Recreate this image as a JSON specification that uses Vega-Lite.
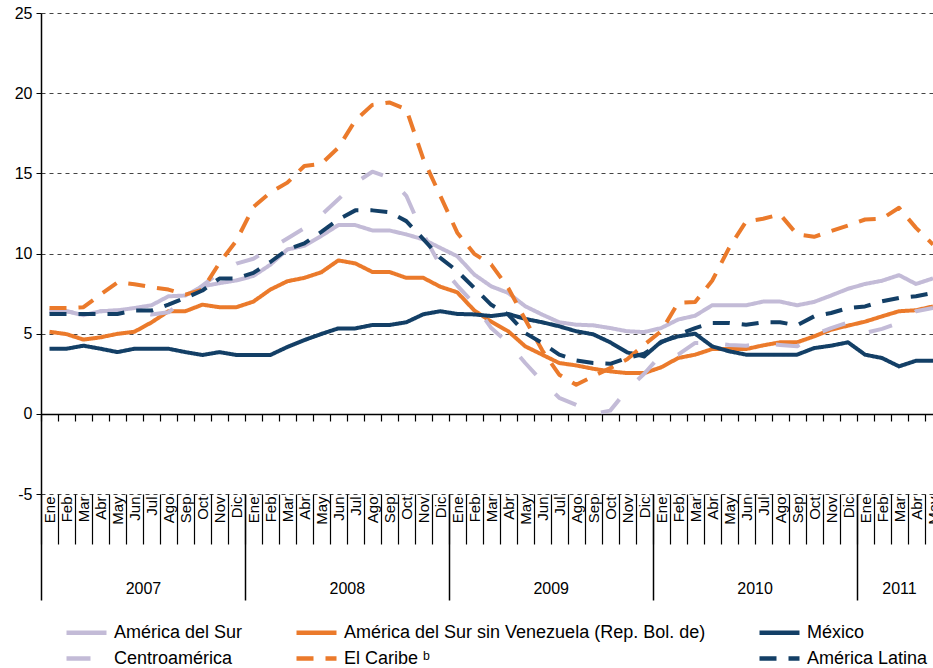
{
"$schema":"https://vega.github.io/schema/vega-lite/v6.json",
"width":892,"height":481,
"autosize":{"type":"none"},
"padding":{"left":41,"top":13,"right":0,"bottom":174},
"background":"white",
"config":{"font":"Liberation Sans","view":{"stroke":null},"axis":{"labelFont":"Liberation Sans","labelColor":"#000"}},
"datasets":{"d":[
{"mes":0,"serie":"América del Sur","valor":6.4},{"mes":1,"serie":"América del Sur","valor":6.4},{"mes":2,"serie":"América del Sur","valor":6.15},{"mes":3,"serie":"América del Sur","valor":6.4},{"mes":4,"serie":"América del Sur","valor":6.45},{"mes":5,"serie":"América del Sur","valor":6.6},{"mes":6,"serie":"América del Sur","valor":6.77},{"mes":7,"serie":"América del Sur","valor":7.33},{"mes":8,"serie":"América del Sur","valor":7.38},{"mes":9,"serie":"América del Sur","valor":7.95},{"mes":10,"serie":"América del Sur","valor":8.15},{"mes":11,"serie":"América del Sur","valor":8.32},
{"mes":12,"serie":"América del Sur","valor":8.6},{"mes":13,"serie":"América del Sur","valor":9.3},{"mes":14,"serie":"América del Sur","valor":10.25},{"mes":15,"serie":"América del Sur","valor":10.48},{"mes":16,"serie":"América del Sur","valor":11.1},{"mes":17,"serie":"América del Sur","valor":11.77},{"mes":18,"serie":"América del Sur","valor":11.77},{"mes":19,"serie":"América del Sur","valor":11.44},{"mes":20,"serie":"América del Sur","valor":11.44},{"mes":21,"serie":"América del Sur","valor":11.19},{"mes":22,"serie":"América del Sur","valor":10.88},{"mes":23,"serie":"América del Sur","valor":10.35},
{"mes":24,"serie":"América del Sur","valor":9.83},{"mes":25,"serie":"América del Sur","valor":8.69},{"mes":26,"serie":"América del Sur","valor":7.95},{"mes":27,"serie":"América del Sur","valor":7.54},{"mes":28,"serie":"América del Sur","valor":6.71},{"mes":29,"serie":"América del Sur","valor":6.19},{"mes":30,"serie":"América del Sur","valor":5.71},{"mes":31,"serie":"América del Sur","valor":5.56},{"mes":32,"serie":"América del Sur","valor":5.52},{"mes":33,"serie":"América del Sur","valor":5.35},{"mes":34,"serie":"América del Sur","valor":5.15},{"mes":35,"serie":"América del Sur","valor":5.1},
{"mes":36,"serie":"América del Sur","valor":5.35},{"mes":37,"serie":"América del Sur","valor":5.88},{"mes":38,"serie":"América del Sur","valor":6.12},{"mes":39,"serie":"América del Sur","valor":6.77},{"mes":40,"serie":"América del Sur","valor":6.77},{"mes":41,"serie":"América del Sur","valor":6.77},{"mes":42,"serie":"América del Sur","valor":7.0},{"mes":43,"serie":"América del Sur","valor":7.0},{"mes":44,"serie":"América del Sur","valor":6.77},{"mes":45,"serie":"América del Sur","valor":6.98},{"mes":46,"serie":"América del Sur","valor":7.38},{"mes":47,"serie":"América del Sur","valor":7.8},
{"mes":48,"serie":"América del Sur","valor":8.1},{"mes":49,"serie":"América del Sur","valor":8.3},{"mes":50,"serie":"América del Sur","valor":8.65},{"mes":51,"serie":"América del Sur","valor":8.1},{"mes":52,"serie":"América del Sur","valor":8.45},

{"mes":0,"serie":"América del Sur sin Venezuela (Rep. Bol. de)","valor":5.12},{"mes":1,"serie":"América del Sur sin Venezuela (Rep. Bol. de)","valor":4.97},{"mes":2,"serie":"América del Sur sin Venezuela (Rep. Bol. de)","valor":4.63},{"mes":3,"serie":"América del Sur sin Venezuela (Rep. Bol. de)","valor":4.77},{"mes":4,"serie":"América del Sur sin Venezuela (Rep. Bol. de)","valor":4.99},{"mes":5,"serie":"América del Sur sin Venezuela (Rep. Bol. de)","valor":5.12},{"mes":6,"serie":"América del Sur sin Venezuela (Rep. Bol. de)","valor":5.7},{"mes":7,"serie":"América del Sur sin Venezuela (Rep. Bol. de)","valor":6.4},{"mes":8,"serie":"América del Sur sin Venezuela (Rep. Bol. de)","valor":6.4},{"mes":9,"serie":"América del Sur sin Venezuela (Rep. Bol. de)","valor":6.81},{"mes":10,"serie":"América del Sur sin Venezuela (Rep. Bol. de)","valor":6.65},{"mes":11,"serie":"América del Sur sin Venezuela (Rep. Bol. de)","valor":6.65},
{"mes":12,"serie":"América del Sur sin Venezuela (Rep. Bol. de)","valor":7.0},{"mes":13,"serie":"América del Sur sin Venezuela (Rep. Bol. de)","valor":7.75},{"mes":14,"serie":"América del Sur sin Venezuela (Rep. Bol. de)","valor":8.27},{"mes":15,"serie":"América del Sur sin Venezuela (Rep. Bol. de)","valor":8.48},{"mes":16,"serie":"América del Sur sin Venezuela (Rep. Bol. de)","valor":8.83},{"mes":17,"serie":"América del Sur sin Venezuela (Rep. Bol. de)","valor":9.57},{"mes":18,"serie":"América del Sur sin Venezuela (Rep. Bol. de)","valor":9.38},{"mes":19,"serie":"América del Sur sin Venezuela (Rep. Bol. de)","valor":8.85},{"mes":20,"serie":"América del Sur sin Venezuela (Rep. Bol. de)","valor":8.85},{"mes":21,"serie":"América del Sur sin Venezuela (Rep. Bol. de)","valor":8.48},{"mes":22,"serie":"América del Sur sin Venezuela (Rep. Bol. de)","valor":8.48},{"mes":23,"serie":"América del Sur sin Venezuela (Rep. Bol. de)","valor":7.93},
{"mes":24,"serie":"América del Sur sin Venezuela (Rep. Bol. de)","valor":7.58},{"mes":25,"serie":"América del Sur sin Venezuela (Rep. Bol. de)","valor":6.45},{"mes":26,"serie":"América del Sur sin Venezuela (Rep. Bol. de)","valor":5.75},{"mes":27,"serie":"América del Sur sin Venezuela (Rep. Bol. de)","valor":5.15},{"mes":28,"serie":"América del Sur sin Venezuela (Rep. Bol. de)","valor":4.21},{"mes":29,"serie":"América del Sur sin Venezuela (Rep. Bol. de)","valor":3.69},{"mes":30,"serie":"América del Sur sin Venezuela (Rep. Bol. de)","valor":3.17},{"mes":31,"serie":"América del Sur sin Venezuela (Rep. Bol. de)","valor":3.02},{"mes":32,"serie":"América del Sur sin Venezuela (Rep. Bol. de)","valor":2.81},{"mes":33,"serie":"América del Sur sin Venezuela (Rep. Bol. de)","valor":2.65},{"mes":34,"serie":"América del Sur sin Venezuela (Rep. Bol. de)","valor":2.54},{"mes":35,"serie":"América del Sur sin Venezuela (Rep. Bol. de)","valor":2.54},
{"mes":36,"serie":"América del Sur sin Venezuela (Rep. Bol. de)","valor":2.9},{"mes":37,"serie":"América del Sur sin Venezuela (Rep. Bol. de)","valor":3.48},{"mes":38,"serie":"América del Sur sin Venezuela (Rep. Bol. de)","valor":3.69},{"mes":39,"serie":"América del Sur sin Venezuela (Rep. Bol. de)","valor":4.04},{"mes":40,"serie":"América del Sur sin Venezuela (Rep. Bol. de)","valor":4.04},{"mes":41,"serie":"América del Sur sin Venezuela (Rep. Bol. de)","valor":4.04},{"mes":42,"serie":"América del Sur sin Venezuela (Rep. Bol. de)","valor":4.27},{"mes":43,"serie":"América del Sur sin Venezuela (Rep. Bol. de)","valor":4.46},{"mes":44,"serie":"América del Sur sin Venezuela (Rep. Bol. de)","valor":4.46},{"mes":45,"serie":"América del Sur sin Venezuela (Rep. Bol. de)","valor":4.83},{"mes":46,"serie":"América del Sur sin Venezuela (Rep. Bol. de)","valor":5.25},{"mes":47,"serie":"América del Sur sin Venezuela (Rep. Bol. de)","valor":5.5},
{"mes":48,"serie":"América del Sur sin Venezuela (Rep. Bol. de)","valor":5.75},{"mes":49,"serie":"América del Sur sin Venezuela (Rep. Bol. de)","valor":6.08},{"mes":50,"serie":"América del Sur sin Venezuela (Rep. Bol. de)","valor":6.4},{"mes":51,"serie":"América del Sur sin Venezuela (Rep. Bol. de)","valor":6.46},{"mes":52,"serie":"América del Sur sin Venezuela (Rep. Bol. de)","valor":6.7},

{"mes":0,"serie":"México","valor":4.06},{"mes":1,"serie":"México","valor":4.06},{"mes":2,"serie":"México","valor":4.25},{"mes":3,"serie":"México","valor":4.06},{"mes":4,"serie":"México","valor":3.85},{"mes":5,"serie":"México","valor":4.06},{"mes":6,"serie":"México","valor":4.06},{"mes":7,"serie":"México","valor":4.06},{"mes":8,"serie":"México","valor":3.85},{"mes":9,"serie":"México","valor":3.67},{"mes":10,"serie":"México","valor":3.85},{"mes":11,"serie":"México","valor":3.67},
{"mes":12,"serie":"México","valor":3.67},{"mes":13,"serie":"México","valor":3.67},{"mes":14,"serie":"México","valor":4.17},{"mes":15,"serie":"México","valor":4.6},{"mes":16,"serie":"México","valor":4.98},{"mes":17,"serie":"México","valor":5.33},{"mes":18,"serie":"México","valor":5.33},{"mes":19,"serie":"México","valor":5.54},{"mes":20,"serie":"México","valor":5.54},{"mes":21,"serie":"México","valor":5.71},{"mes":22,"serie":"México","valor":6.21},{"mes":23,"serie":"México","valor":6.4},
{"mes":24,"serie":"México","valor":6.23},{"mes":25,"serie":"México","valor":6.2},{"mes":26,"serie":"México","valor":6.1},{"mes":27,"serie":"México","valor":6.23},{"mes":28,"serie":"México","valor":5.92},{"mes":29,"serie":"México","valor":5.71},{"mes":30,"serie":"México","valor":5.46},{"mes":31,"serie":"México","valor":5.15},{"mes":32,"serie":"México","valor":4.96},{"mes":33,"serie":"México","valor":4.46},{"mes":34,"serie":"México","valor":3.83},{"mes":35,"serie":"México","valor":3.58},
{"mes":36,"serie":"México","valor":4.5},{"mes":37,"serie":"México","valor":4.83},{"mes":38,"serie":"México","valor":5.0},{"mes":39,"serie":"México","valor":4.21},{"mes":40,"serie":"México","valor":3.9},{"mes":41,"serie":"México","valor":3.69},{"mes":42,"serie":"México","valor":3.69},{"mes":43,"serie":"México","valor":3.69},{"mes":44,"serie":"México","valor":3.69},{"mes":45,"serie":"México","valor":4.1},{"mes":46,"serie":"México","valor":4.25},{"mes":47,"serie":"México","valor":4.46},
{"mes":48,"serie":"México","valor":3.69},{"mes":49,"serie":"México","valor":3.48},{"mes":50,"serie":"México","valor":2.96},{"mes":51,"serie":"México","valor":3.31},{"mes":52,"serie":"México","valor":3.31},

{"mes":0,"serie":"Centroamérica","valor":6.45},{"mes":1,"serie":"Centroamérica","valor":6.4},{"mes":2,"serie":"Centroamérica","valor":6.2},{"mes":3,"serie":"Centroamérica","valor":6.4},{"mes":4,"serie":"Centroamérica","valor":6.45},{"mes":5,"serie":"Centroamérica","valor":6.45},{"mes":6,"serie":"Centroamérica","valor":6.19},{"mes":7,"serie":"Centroamérica","valor":6.33},{"mes":8,"serie":"Centroamérica","valor":7.2},{"mes":9,"serie":"Centroamérica","valor":8.0},{"mes":10,"serie":"Centroamérica","valor":8.8},{"mes":11,"serie":"Centroamérica","valor":9.37},
{"mes":12,"serie":"Centroamérica","valor":9.67},{"mes":13,"serie":"Centroamérica","valor":10.3},{"mes":14,"serie":"Centroamérica","valor":10.93},{"mes":15,"serie":"Centroamérica","valor":11.58},{"mes":16,"serie":"Centroamérica","valor":12.4},{"mes":17,"serie":"Centroamérica","valor":13.38},{"mes":18,"serie":"Centroamérica","valor":14.4},{"mes":19,"serie":"Centroamérica","valor":15.1},{"mes":20,"serie":"Centroamérica","valor":14.73},{"mes":21,"serie":"Centroamérica","valor":13.6},{"mes":22,"serie":"Centroamérica","valor":11.2},{"mes":23,"serie":"Centroamérica","valor":9.25},
{"mes":24,"serie":"Centroamérica","valor":8.0},{"mes":25,"serie":"Centroamérica","valor":6.85},{"mes":26,"serie":"Centroamérica","valor":5.35},{"mes":27,"serie":"Centroamérica","valor":4.42},{"mes":28,"serie":"Centroamérica","valor":3.17},{"mes":29,"serie":"Centroamérica","valor":2.02},{"mes":30,"serie":"Centroamérica","valor":1.0},{"mes":31,"serie":"Centroamérica","valor":0.56},{"mes":32,"serie":"Centroamérica","valor":0.0},{"mes":33,"serie":"Centroamérica","valor":0.2},{"mes":34,"serie":"Centroamérica","valor":1.5},{"mes":35,"serie":"Centroamérica","valor":2.5},
{"mes":36,"serie":"Centroamérica","valor":3.69},{"mes":37,"serie":"Centroamérica","valor":3.69},{"mes":38,"serie":"Centroamérica","valor":4.42},{"mes":39,"serie":"Centroamérica","valor":4.42},{"mes":40,"serie":"Centroamérica","valor":4.3},{"mes":41,"serie":"Centroamérica","valor":4.25},{"mes":42,"serie":"Centroamérica","valor":4.38},{"mes":43,"serie":"Centroamérica","valor":4.3},{"mes":44,"serie":"Centroamérica","valor":4.21},{"mes":45,"serie":"Centroamérica","valor":4.94},{"mes":46,"serie":"Centroamérica","valor":5.35},{"mes":47,"serie":"Centroamérica","valor":5.7},
{"mes":48,"serie":"Centroamérica","valor":5.04},{"mes":49,"serie":"Centroamérica","valor":5.3},{"mes":50,"serie":"Centroamérica","valor":5.67},{"mes":51,"serie":"Centroamérica","valor":6.4},{"mes":52,"serie":"Centroamérica","valor":6.6},

{"mes":0,"serie":"El Caribe ᵇ","valor":6.6},{"mes":1,"serie":"El Caribe ᵇ","valor":6.6},{"mes":2,"serie":"El Caribe ᵇ","valor":6.65},{"mes":3,"serie":"El Caribe ᵇ","valor":7.44},{"mes":4,"serie":"El Caribe ᵇ","valor":8.2},{"mes":5,"serie":"El Caribe ᵇ","valor":8.08},{"mes":6,"serie":"El Caribe ᵇ","valor":7.9},{"mes":7,"serie":"El Caribe ᵇ","valor":7.75},{"mes":8,"serie":"El Caribe ᵇ","valor":7.44},{"mes":9,"serie":"El Caribe ᵇ","valor":7.75},{"mes":10,"serie":"El Caribe ᵇ","valor":9.4},{"mes":11,"serie":"El Caribe ᵇ","valor":10.8},
{"mes":12,"serie":"El Caribe ᵇ","valor":12.9},{"mes":13,"serie":"El Caribe ᵇ","valor":13.8},{"mes":14,"serie":"El Caribe ᵇ","valor":14.42},{"mes":15,"serie":"El Caribe ᵇ","valor":15.46},{"mes":16,"serie":"El Caribe ᵇ","valor":15.6},{"mes":17,"serie":"El Caribe ᵇ","valor":16.6},{"mes":18,"serie":"El Caribe ᵇ","valor":18.3},{"mes":19,"serie":"El Caribe ᵇ","valor":19.27},{"mes":20,"serie":"El Caribe ᵇ","valor":19.42},{"mes":21,"serie":"El Caribe ᵇ","valor":19.0},{"mes":22,"serie":"El Caribe ᵇ","valor":15.9},{"mes":23,"serie":"El Caribe ᵇ","valor":13.6},
{"mes":24,"serie":"El Caribe ᵇ","valor":11.3},{"mes":25,"serie":"El Caribe ᵇ","valor":9.98},{"mes":26,"serie":"El Caribe ᵇ","valor":9.31},{"mes":27,"serie":"El Caribe ᵇ","valor":7.85},{"mes":28,"serie":"El Caribe ᵇ","valor":5.88},{"mes":29,"serie":"El Caribe ᵇ","valor":3.96},{"mes":30,"serie":"El Caribe ᵇ","valor":2.44},{"mes":31,"serie":"El Caribe ᵇ","valor":1.81},{"mes":32,"serie":"El Caribe ᵇ","valor":2.35},{"mes":33,"serie":"El Caribe ᵇ","valor":2.85},{"mes":34,"serie":"El Caribe ᵇ","valor":3.4},{"mes":35,"serie":"El Caribe ᵇ","valor":4.3},
{"mes":36,"serie":"El Caribe ᵇ","valor":5.15},{"mes":37,"serie":"El Caribe ᵇ","valor":6.92},{"mes":38,"serie":"El Caribe ᵇ","valor":6.98},{"mes":39,"serie":"El Caribe ᵇ","valor":8.3},{"mes":40,"serie":"El Caribe ᵇ","valor":10.35},{"mes":41,"serie":"El Caribe ᵇ","valor":12.0},{"mes":42,"serie":"El Caribe ᵇ","valor":12.17},{"mes":43,"serie":"El Caribe ᵇ","valor":12.44},{"mes":44,"serie":"El Caribe ᵇ","valor":11.19},{"mes":45,"serie":"El Caribe ᵇ","valor":11.04},{"mes":46,"serie":"El Caribe ᵇ","valor":11.4},{"mes":47,"serie":"El Caribe ᵇ","valor":11.75},
{"mes":48,"serie":"El Caribe ᵇ","valor":12.12},{"mes":49,"serie":"El Caribe ᵇ","valor":12.17},{"mes":50,"serie":"El Caribe ᵇ","valor":12.85},{"mes":51,"serie":"El Caribe ᵇ","valor":11.6},{"mes":52,"serie":"El Caribe ᵇ","valor":10.56},

{"mes":0,"serie":"América Latina","valor":6.23},{"mes":1,"serie":"América Latina","valor":6.23},{"mes":2,"serie":"América Latina","valor":6.23},{"mes":3,"serie":"América Latina","valor":6.23},{"mes":4,"serie":"América Latina","valor":6.23},{"mes":5,"serie":"América Latina","valor":6.44},{"mes":6,"serie":"América Latina","valor":6.44},{"mes":7,"serie":"América Latina","valor":6.81},{"mes":8,"serie":"América Latina","valor":7.23},{"mes":9,"serie":"América Latina","valor":7.69},{"mes":10,"serie":"América Latina","valor":8.44},{"mes":11,"serie":"América Latina","valor":8.44},
{"mes":12,"serie":"América Latina","valor":8.79},{"mes":13,"serie":"América Latina","valor":9.47},{"mes":14,"serie":"América Latina","valor":10.25},{"mes":15,"serie":"América Latina","valor":10.63},{"mes":16,"serie":"América Latina","valor":11.35},{"mes":17,"serie":"América Latina","valor":12.12},{"mes":18,"serie":"América Latina","valor":12.69},{"mes":19,"serie":"América Latina","valor":12.69},{"mes":20,"serie":"América Latina","valor":12.58},{"mes":21,"serie":"América Latina","valor":12.02},{"mes":22,"serie":"América Latina","valor":10.9},{"mes":23,"serie":"América Latina","valor":9.73},
{"mes":24,"serie":"América Latina","valor":8.9},{"mes":25,"serie":"América Latina","valor":7.85},{"mes":26,"serie":"América Latina","valor":6.8},{"mes":27,"serie":"América Latina","valor":6.19},{"mes":28,"serie":"América Latina","valor":5.04},{"mes":29,"serie":"América Latina","valor":4.42},{"mes":30,"serie":"América Latina","valor":3.69},{"mes":31,"serie":"América Latina","valor":3.33},{"mes":32,"serie":"América Latina","valor":3.17},{"mes":33,"serie":"América Latina","valor":3.12},{"mes":34,"serie":"América Latina","valor":3.48},{"mes":35,"serie":"América Latina","valor":3.75},
{"mes":36,"serie":"América Latina","valor":4.45},{"mes":37,"serie":"América Latina","valor":4.94},{"mes":38,"serie":"América Latina","valor":5.35},{"mes":39,"serie":"América Latina","valor":5.67},{"mes":40,"serie":"América Latina","valor":5.67},{"mes":41,"serie":"América Latina","valor":5.56},{"mes":42,"serie":"América Latina","valor":5.71},{"mes":43,"serie":"América Latina","valor":5.71},{"mes":44,"serie":"América Latina","valor":5.52},{"mes":45,"serie":"América Latina","valor":6.08},{"mes":46,"serie":"América Latina","valor":6.29},{"mes":47,"serie":"América Latina","valor":6.6},
{"mes":48,"serie":"América Latina","valor":6.7},{"mes":49,"serie":"América Latina","valor":7.02},{"mes":50,"serie":"América Latina","valor":7.23},{"mes":51,"serie":"América Latina","valor":7.33},{"mes":52,"serie":"América Latina","valor":7.54}
]},
"data":{"name":"d"},
"layer":[
{
"mark":{"type":"line","strokeWidth":4,"strokeJoin":"round","strokeCap":"butt"},
"encoding":{
"x":{"field":"mes","type":"quantitative","scale":{"domain":[-0.5,52],"nice":false,"zero":false},
"axis":{"orient":"bottom","title":null,"values":[0,1,2,3,4,5,6,7,8,9,10,11,12,13,14,15,16,17,18,19,20,21,22,23,24,25,26,27,28,29,30,31,32,33,34,35,36,37,38,39,40,41,42,43,44,45,46,47,48,49,50,51,52],
"labelExpr":"['Ene','Feb','Mar','Abr','May','Jun','Jul','Ago','Sep','Oct','Nov','Dic'][datum.value % 12]",
"labelAngle":-90,"labelFontSize":15,"labelPadding":2,"ticks":false,"domain":false,"grid":false,"labelOverlap":false,"labelFlush":false,"labelBound":false}},
"y":{"field":"valor","type":"quantitative","scale":{"domain":[-5,25],"nice":false,"zero":false},
"axis":{"title":null,"values":[-5,0,5,10,15,20,25],"labelExpr":"'' + datum.value","grid":true,"gridDash":[4,4],"gridColor":"#444","gridWidth":1,"domainColor":"#000","domainWidth":1.5,"tickColor":"#000","tickSize":5,"labelFontSize":16,"labelPadding":4}},
"color":{"field":"serie","type":"nominal",
"scale":{"domain":["América del Sur","América del Sur sin Venezuela (Rep. Bol. de)","México","Centroamérica","El Caribe ᵇ","América Latina"],"range":["#C3BBD7","#EB7A2B","#133F66","#C3BBD7","#EB7A2B","#133F66"]},
"legend":{"orient":"none","direction":"horizontal","legendX":33,"legendY":607,"columns":3,"columnPadding":44,"rowPadding":4,"title":null,"padding":0,
"labelFontSize":18,"labelFont":"Liberation Sans","labelColor":"#000","labelLimit":0,
"symbolType":"M-2,0H2","symbolSize":400,"symbolStrokeWidth":4.5,"labelOffset":15,
"encode":{"symbols":{"update":{"strokeDash":{"signal":"datum.value === 'Centroamérica' ? [15,7] : ((datum.value === 'América Latina' || datum.value === 'El Caribe ᵇ') ? [20,10] : [1,0])"}}}}}},
"strokeDash":{"field":"serie","type":"nominal",
"scale":{"domain":["América del Sur","América del Sur sin Venezuela (Rep. Bol. de)","México","Centroamérica","El Caribe ᵇ","América Latina"],"range":[[1,0],[1,0],[1,0],[24,27],[17,12],[17,12]]},"legend":null}
}
},
{
"mark":{"type":"point","opacity":0},
"encoding":{"x":{"field":"mes","type":"quantitative","scale":{"domain":[-0.5,52],"nice":false,"zero":false},
"axis":{"orient":"bottom","title":null,"values":[-0.5,0.5,1.5,2.5,3.5,4.5,5.5,6.5,7.5,8.5,9.5,10.5,11.5,12.5,13.5,14.5,15.5,16.5,17.5,18.5,19.5,20.5,21.5,22.5,23.5,24.5,25.5,26.5,27.5,28.5,29.5,30.5,31.5,32.5,33.5,34.5,35.5,36.5,37.5,38.5,39.5,40.5,41.5,42.5,43.5,44.5,45.5,46.5,47.5,48.5,49.5,50.5,51.5],
"labels":false,"ticks":true,"tickSize":50,"tickColor":"#000","tickWidth":1.2,"domain":false,"grid":false}}}
},
{
"mark":{"type":"point","opacity":0},
"encoding":{"x":{"field":"mes","type":"quantitative","scale":{"domain":[-0.5,52],"nice":false,"zero":false},
"axis":{"orient":"bottom","title":null,"values":[-0.5,11.5,23.5,35.5,47.5],"labels":false,"ticks":true,"tickSize":106,"tickColor":"#000","tickWidth":1.5,"domain":false,"grid":false}}}
},
{
"mark":{"type":"point","opacity":0},
"encoding":{"x":{"field":"mes","type":"quantitative","scale":{"domain":[-0.5,52],"nice":false,"zero":false},
"axis":{"orient":"bottom","title":null,"values":[5.5,17.5,29.5,41.5,50],"labelExpr":"floor((datum.value + 0.5) / 12) + 2007","labelAngle":0,"labelFontSize":16,"labelPadding":86,"ticks":false,"domain":false,"grid":false,"labelOverlap":false,"labelFlush":false,"labelBound":false}}}
},
{
"mark":{"type":"point","opacity":0},
"encoding":{"x":{"field":"mes","type":"quantitative","scale":{"domain":[-0.5,52],"nice":false,"zero":false},
"axis":{"orient":"bottom","title":null,"offset":-80,"values":[-0.5,0.5,1.5,2.5,3.5,4.5,5.5,6.5,7.5,8.5,9.5,10.5,11.5,12.5,13.5,14.5,15.5,16.5,17.5,18.5,19.5,20.5,21.5,22.5,23.5,24.5,25.5,26.5,27.5,28.5,29.5,30.5,31.5,32.5,33.5,34.5,35.5,36.5,37.5,38.5,39.5,40.5,41.5,42.5,43.5,44.5,45.5,46.5,47.5,48.5,49.5,50.5,51.5],
"labels":false,"ticks":true,"tickSize":7,"tickColor":"#000","tickWidth":1.2,"domain":true,"domainColor":"#000","domainWidth":1.5,"grid":false}}}
}
],
"resolve":{"axis":{"x":"independent"}}
}
